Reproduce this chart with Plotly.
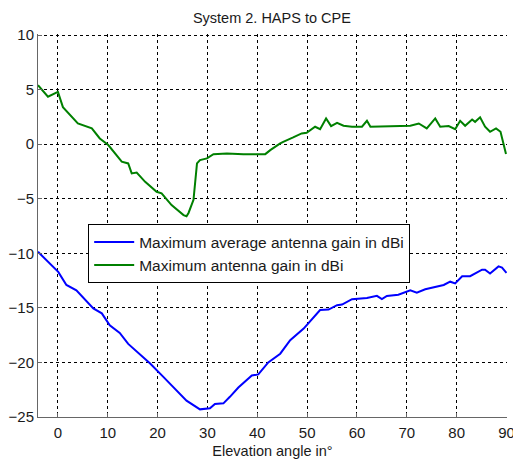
import plotly.graph_objects as go

# Elevation angle (deg) and gain (dBi) for the two curves
avg_angle = [-4, 0.06, 1.7, 3.7, 7.1, 8.8, 10.4, 12.4, 14.1, 16.5, 18.5, 21.1, 25.8, 28.5,
             30.5, 31.5, 33.2, 34.5, 36.2, 38.9, 40.2, 42.2, 44.6, 46.6, 49.3, 52.6, 54.3,
             56, 57, 59, 62, 64, 65, 66, 68.3, 70.7, 72, 73.7, 77.4, 78.7, 79.7, 81.1, 82.7,
             85.1, 85.7, 86.7, 88.4, 89.1, 90]
avg_gain = [-9.86, -11.7, -12.9, -13.4, -15.05, -15.5, -16.6, -17.3, -18.3, -19.3, -20.1,
            -21.3, -23.5, -24.3, -24.2, -23.8, -23.75, -23.15, -22.3, -21.2, -21.1, -20.0,
            -19.2, -17.96, -16.9, -15.2, -15.15, -14.75, -14.7, -14.2, -14.1, -13.9, -14.2,
            -13.9, -13.8, -13.4, -13.6, -13.3, -12.9, -12.6, -12.75, -12.1, -12.1, -11.5,
            -11.5, -11.85, -11.2, -11.3, -11.8]

max_angle = [-4, -2, 0, 1, 4, 6.8, 8.4, 10.1, 12.8, 14.1, 14.8, 15.8, 17.5, 19.8, 20.8,
             22.8, 25.2, 25.8, 26.2, 27.2, 27.9, 28.5, 29.9, 31.2, 33.9, 37.2, 41.6, 42.6,
             44.6, 45.2, 47.2, 48.9, 49.9, 51.6, 52.6, 53.8, 54.8, 56, 57.3, 59, 61, 62,
             62.7, 66, 70.7, 72.4, 74, 75.7, 76.7, 78.4, 79.7, 80.7, 81.7, 83.1, 83.7, 84.7,
             85.7, 86.7, 87.9, 88.8, 89.3, 89.9]
max_gain = [5.4, 4.35, 4.8, 3.4, 1.9, 1.45, 0.53, -0.08, -1.6, -1.76, -2.68, -2.6, -3.45,
            -4.36, -4.5, -5.58, -6.5, -6.6, -6.3, -5.1, -1.76, -1.46, -1.3, -0.91, -0.85,
            -0.91, -0.91, -0.54, 0.07, 0.22, 0.62, 0.99, 1.05, 1.6, 1.38, 2.36, 1.66, 1.96,
            1.69, 1.6, 1.6, 2.15, 1.6, 1.66, 1.69, 1.9, 1.45, 2.36, 1.6, 1.66, 1.38, 2.15,
            1.69, 2.27, 2.05, 2.46, 1.6, 1.14, 1.45, 1.14, 0.22, -0.9]

x_ticks = list(range(0, 91, 10))
y_ticks = list(range(-25, 11, 5))

FONT = "Liberation Sans, Arial, sans-serif"
TXT = "#1a1a1a"

fig = go.Figure()
fig.add_trace(go.Scatter(x=avg_angle, y=avg_gain, mode="lines",
                         name="Maximum average antenna gain in dBi",
                         line=dict(color="#0000ff", width=2)))
fig.add_trace(go.Scatter(x=max_angle, y=max_gain, mode="lines",
                         name="Maximum antenna gain in dBi",
                         line=dict(color="#008000", width=2)))

grid = dict(showgrid=True, gridcolor="black", gridwidth=1, griddash="3px,3px")
fig.update_xaxes(range=[-4, 90.1], tickvals=x_ticks, ticks="inside", ticklen=4,
                 tickcolor="#666666", showline=True, linecolor="#666666", linewidth=1,
                 zeroline=False, ticklabeloverflow="allow", ticklabelstandoff=2,
                 automargin=False,
                 tickfont=dict(size=15, color=TXT, family=FONT),
                 title=dict(text="Elevation angle in°", standoff=8,
                            font=dict(size=14.5, color=TXT, family=FONT)),
                 **grid)
fig.update_yaxes(range=[-25, 10.1], tickvals=y_ticks, ticks="inside", ticklen=4,
                 tickcolor="#666666", showline=True, linecolor="#666666", linewidth=1,
                 zeroline=False, ticklabeloverflow="allow", automargin=False,
                 tickfont=dict(size=15, color=TXT, family=FONT),
                 **grid)

fig.update_layout(
    width=513, height=459,
    margin=dict(l=38, r=6, t=34, b=42),
    paper_bgcolor="white", plot_bgcolor="white",
    title=dict(text="System 2. HAPS to CPE", x=0.53, xanchor="center",
               y=1 - 18 / 459, yanchor="middle",
               font=dict(size=14.5, color=TXT, family=FONT)),
    legend=dict(x=0.107, y=0.503, xanchor="left", yanchor="top",
                bgcolor="white", bordercolor="black", borderwidth=1,
                font=dict(size=15.5, color=TXT, family=FONT),
                tracegroupgap=0, itemwidth=40),
    showlegend=True,
)

fig.write_html("out.html")
